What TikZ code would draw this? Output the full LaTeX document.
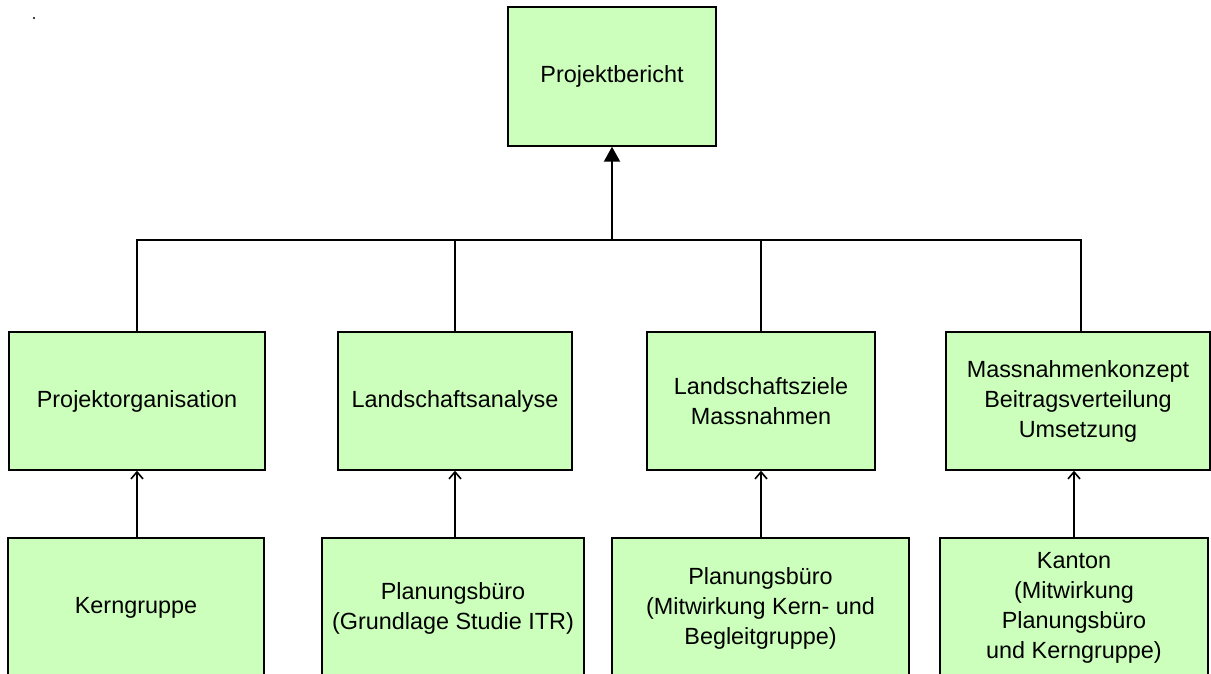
\documentclass[tikz,border=0pt]{standalone}
\usepackage{fontspec}
\setmainfont{Liberation Sans}
\usetikzlibrary{arrows.meta,positioning}
\definecolor{boxgreen}{RGB}{204,255,187}
\tikzset{
    task/.style={
    rectangle,draw=black,fill=boxgreen,line width=0.7pt,align=center,
    font=\fontsize{11.7}{15}\selectfont,inner sep=0pt,minimum height=69pt
    },
    link/.style={
    draw=black,line width=0.8pt
    },
    uplink/.style={
    link,-{Straight Barb[width=6pt,length=3.5pt]}
    },
    mainlink/.style={
    draw=black,line width=1pt,-{Triangle[width=8pt,length=7.5pt]}
    },
}

\begin{document}
\begin{tikzpicture}[x=0.5pt,y=-0.5pt]
   \useasboundingbox (0,0) rectangle (1211,674);
   \clip (0,0) rectangle (1211,674);
   \fill[black] (34,18) circle (0.6pt);

   % top
   \node[task,minimum width=104pt,minimum height=69.5pt] (report) at (612,76.5) {Projektbericht};

   % middle row
   \node[task,minimum width=128pt] (orga) at (137,401) {Projektorganisation};
   \node[task,minimum width=117pt] (analyse) at (455,401) {Landschaftsanalyse};
   \node[task,minimum width=114pt] (ziele) at (761,401) {Landschaftsziele\\Massnahmen};
   \node[task,minimum width=132pt] (konzept) at (1078,401) {Massnahmenkonzept\\Beitragsverteilung\\Umsetzung};

   % bottom row
   \node[task,minimum width=128pt,minimum height=70pt] (kern) at (136,608) {Kerngruppe};
   \node[task,minimum width=131pt,minimum height=70pt] (buero) at (453,608) {Planungsbüro\\(Grundlage Studie ITR)};
   \node[task,minimum width=148.5pt,minimum height=70pt] (mitwirk) at (760.5,608) {Planungsbüro\\(Mitwirkung Kern- und\\Begleitgruppe)};
   \node[task,minimum width=134pt,minimum height=70pt] (kanton) at (1074,608) {Kanton\\(Mitwirkung\\Planungsbüro\\und Kerngruppe)};

   \coordinate (bus) at (612,240);
   \coordinate (busend) at (1081,240);

   \draw[link] (orga.north) |- (busend) -- (busend |- konzept.north);
   \draw[link] (analyse.north) -- (analyse.north |- bus);
   \draw[link] (ziele.north) -- (ziele.north |- bus);
   \draw[mainlink] (bus) -- (report.south);

   \draw[uplink] (kern.north -| orga.north) -- (orga.south);
   \draw[uplink] (buero.north -| analyse.north) -- (analyse.south);
   \draw[uplink] (mitwirk.north -| ziele.north) -- (ziele.south);
   \draw[uplink] (kanton.north) -- (kanton.north |- konzept.south);
\end{tikzpicture}
\end{document}
